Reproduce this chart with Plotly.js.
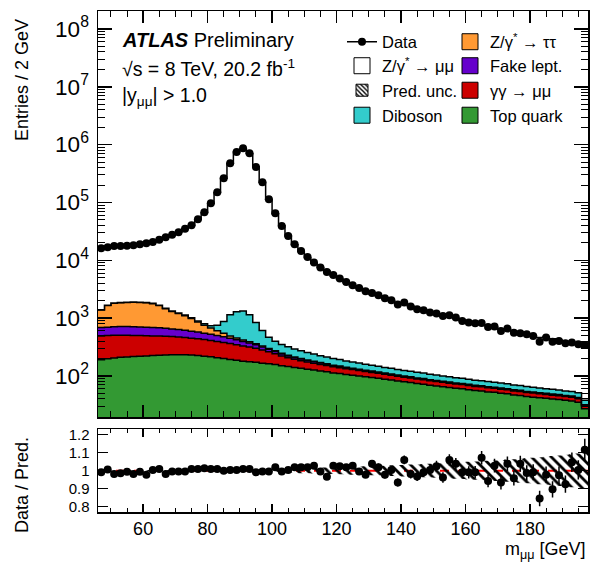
<!DOCTYPE html>
<html><head><meta charset="utf-8">
<script src="https://cdn.plot.ly/plotly-3.0.1.min.js"></script>
<style>html,body{margin:0;padding:0;background:#fff}#chart{width:590px;height:565px}</style>
</head><body><div id="chart"></div>
<script>
// bin centres of the 2 GeV bins [GeV]
const massCentres = [47,49,51,53,55,57,59,61,63,65,67,69,71,73,75,77,79,81,83,85,87,89,91,93,95,97,99,101,103,105,107,109,111,113,115,117,119,121,123,125,127,129,131,133,135,137,139,141,143,145,147,149,151,153,155,157,159,161,163,165,167,169,171,173,175,177,179,181,183,185,187,189,191,193,195,197];
const binHalfWidth = 1;

const dataCounts = [16130,16790,17680,17700,17750,18180,18920,19690,20730,22630,25000,27620,30510,35080,40320,51200,67670,96870,150100,262200,476700,747600,866400,710000,411400,223600,113600,65050,39220,26330,18920,14490,11400,9125,7475,6275,5568,4825,4213,3694,3318,2908,2718,2480,2201,2032,1713,1854,1581,1420,1364,1245,1196,1087,1118,1020,891,836,813,820,702,713,598,658,561,546,524,490,392,460,392,402,366,377,352,342];

const ratioDataPred = [0.991,1.006,0.981,0.985,0.994,0.981,0.994,0.977,1.004,1.009,0.981,0.996,0.996,0.996,1.009,1.009,1.013,1.009,1.009,1.000,1.004,1.004,1.009,1.009,0.991,0.996,0.996,1.019,0.996,1.004,1.019,1.019,1.019,1.028,0.996,0.966,1.028,1.025,1.019,1.028,0.996,0.977,1.038,1.019,0.977,1.004,0.934,1.060,0.981,0.968,0.991,1.004,1.025,0.962,1.060,1.038,0.991,0.991,0.991,1.072,0.943,1.028,0.934,1.038,0.958,1.038,0.987,0.991,0.845,0.977,0.896,0.975,0.925,1.047,1.004,1.117];

const topQuark = [190,198,205,210,213,216,218,222,225,228,230,232,233,232,230,226,220,214,207,200,193,186,180,176,172,166,162,158,150,145,140,136,131,127,122,118,113,110,106,103,100,97,94,91,88,85,82,79,77,74,72,69,67,65,63,61,60,58,56,55,53,52,50,49,47,46,44,43,42,41,40,39,38,37,35,27];
const gammaGamma = [300,300,298,294,290,286,280,275,268,262,255,248,238,228,220,212,205,196,188,180,170,160,150,140,130,115,100,85,72,62,54,48,43,39,36,33,31,29,27,26,24,22,21,20,19,18,17,16,15,14.5,14,13.5,13,12.5,12,11.5,11,10.5,10,10,9.5,9,9,8.5,8,8,7.5,7.5,7,7,6.5,6.5,6,6,5.5,3];
const fakeLept = [200,198,205,210,210,207,205,200,195,190,180,170,165,155,145,135,125,115,105,95,85,75,65,55,45,35,27,21,17,15,13,12,11,10,9,8,7,6.5,6,5.5,5,4.8,4.5,4.3,4,3.8,3.6,3.4,3.2,3,2.9,2.8,2.7,2.6,2.5,2.4,2.3,2.2,2.1,2,2,1.9,1.9,1.8,1.8,1.7,1.7,1.6,1.6,1.5,1.5,1.5,1.4,1.4,1.4,1.3];
const zTauTau = [690,950,1090,1135,1155,1170,1165,1140,1090,970,785,650,565,485,385,285,205,150,105,70,45,30,25,20,15,12,10,9,8,6,5,4.5,4,3.5,3,2.8,2.6,2.4,2.2,2,1.9,1.8,1.7,1.6,1.5,1.4,1.3,1.2,1.2,1.1,1.1,1,1,1,0.9,0.9,0.9,0.9,0.8,0.8,0.8,0.8,0.8,0.7,0.7,0.7,0.7,0.7,0.7,0.6,0.6,0.6,0.6,0.6,0.6,0.6];
const diboson = [20,20,20,20,20,21,21,22,22,23,24,25,27,29,32,36,45,60,150,330,650,840,910,750,480,280,170,125,102,92,80,72,65,59,54,50,47,44,40,38,36,34,32,30,28,27,26,25,24,23,22,21,20,19,18,17.5,17,16,15.5,15,14.5,14,13.5,13,12.5,12,11.5,11,10.5,10,10,9.5,9,9,8.5,6];
// relative prediction uncertainty
const predUnc = [0.004,0.004,0.004,0.004,0.004,0.004,0.004,0.004,0.004,0.004,0.004,0.004,0.004,0.004,0.004,0.004,0.004,0.004,0.004,0.004,0.004,0.004,0.004,0.004,0.004,0.005,0.006,0.008,0.010,0.012,0.013,0.014,0.015,0.016,0.017,0.018,0.019,0.020,0.021,0.022,0.023,0.024,0.026,0.027,0.028,0.030,0.031,0.032,0.034,0.035,0.037,0.038,0.040,0.041,0.043,0.045,0.047,0.049,0.051,0.053,0.055,0.057,0.060,0.062,0.064,0.067,0.070,0.072,0.075,0.078,0.081,0.085,0.088,0.092,0.096,0.100];

const FONT = 'Liberation Sans, Arial, Helvetica, sans-serif';
const colTop = 'rgb(51,153,51)', colGG = 'rgb(204,0,0)', colFake = 'rgb(102,0,204)',
      colTau = 'rgb(255,153,51)', colDib = 'rgb(51,204,204)';

// derived quantities
const n = massCentres.length;
const edges = massCentres.map(c => c - binHalfWidth).concat([massCentres[n-1] + binHalfWidth]);
const stepY = v => v.concat([v[v.length-1]]);
const cum = [];
let run = new Array(n).fill(0);
[topQuark, gammaGamma, fakeLept, zTauTau, diboson].forEach(arr => {
  run = run.map((r, i) => r + arr[i]);
  cum.push(run.slice());
});
const totalPred = dataCounts.map((d, i) => d / ratioDataPred[i]);
const ratioErr = dataCounts.map((d, i) => Math.sqrt(d) / totalPred[i]);
const uncLo = predUnc.map(u => 1 - u), uncHi = predUnc.map(u => 1 + u);

const traces = [];
// baseline for the first filled layer (below visible range on log axis)
traces.push({x: edges, y: edges.map(() => 1), mode: 'lines', line: {width: 0, shape: 'hv'}, showlegend: false, hoverinfo: 'skip'});
const layerCols = [colTop, colGG, colFake, colTau, colDib];
cum.forEach((c, k) => {
  traces.push({x: edges, y: stepY(c), mode: 'lines', fill: 'tonexty', fillcolor: layerCols[k],
    line: {color: 'black', width: 1.5, shape: 'hv'}, showlegend: false, hoverinfo: 'skip'});
});
traces.push({x: edges, y: stepY(totalPred), mode: 'lines', fill: 'tonexty', fillcolor: 'white',
  line: {color: 'black', width: 1.5, shape: 'hv'}, showlegend: false, hoverinfo: 'skip'});
// data
traces.push({x: massCentres, y: dataCounts, mode: 'markers', marker: {color: 'black', size: 8}, showlegend: false});

// ratio panel
traces.push({x: edges, y: stepY(uncLo), xaxis: 'x2', yaxis: 'y2', mode: 'lines', line: {width: 0, shape: 'hv'}, showlegend: false, hoverinfo: 'skip'});
traces.push({x: edges, y: stepY(uncHi), xaxis: 'x2', yaxis: 'y2', mode: 'lines', line: {width: 0, shape: 'hv'},
  fill: 'tonexty', fillcolor: 'rgba(0,0,0,0)',
  fillpattern: {shape: '\\', fgcolor: 'black', bgcolor: 'rgba(0,0,0,0)', size: 7, solidity: 0.4, fillmode: 'replace'},
  showlegend: false, hoverinfo: 'skip'});
traces.push({x: massCentres, y: ratioDataPred, xaxis: 'x2', yaxis: 'y2', mode: 'markers',
  marker: {color: 'black', size: 8},
  error_y: {type: 'data', array: ratioErr, visible: true, color: 'black', thickness: 1.5, width: 0},
  showlegend: false});

// legend entries
const legItems = [
  {name: 'Data', legend: 'legend', kind: 'data'},
  {name: 'Z/γ<sup>*</sup> → μμ', legend: 'legend2', color: 'white'},
  {name: 'Pred. unc.', legend: 'legend3', kind: 'hatch'},
  {name: 'Diboson', legend: 'legend4', color: colDib},
  {name: 'Z/γ<sup>*</sup> → ττ', legend: 'legend5', color: colTau},
  {name: 'Fake lept.', legend: 'legend6', color: colFake},
  {name: 'γγ → μμ', legend: 'legend7', color: colGG},
  {name: 'Top quark', legend: 'legend8', color: colTop}
];
legItems.forEach(it => {
  if (it.kind === 'data') {
    traces.push({x: [null], y: [null], name: it.name, legend: it.legend, mode: 'lines+markers',
      marker: {color: 'black', size: 8}, line: {color: 'black', width: 1.5}});
  } else if (it.kind === 'hatch') {
    traces.push({type: 'bar', x: [null], y: [null], name: it.name, legend: it.legend,
      marker: {color: 'white', line: {color: 'black', width: 1},
        pattern: {shape: '\\', fgcolor: 'black', bgcolor: 'white', size: 4, solidity: 0.45}}});
  } else {
    traces.push({x: [null], y: [null], name: it.name, legend: it.legend, mode: 'markers',
      marker: {symbol: 'square', size: 16, color: it.color, line: {color: 'black', width: 1}}});
  }
});

const px2x = px => (px - 98) / 490;
const py2y = py => (512 - py) / 501;
const legendCfg = (xpx, ypx) => ({x: px2x(xpx), y: py2y(ypx), xanchor: 'left', yanchor: 'middle',
  bgcolor: 'rgba(0,0,0,0)', borderwidth: 0, font: {family: FONT, size: 16.5, color: 'black'}});

const axCommon = {showline: true, linecolor: 'black', linewidth: 1.5, mirror: 'ticks', ticks: 'inside',
  tickcolor: 'black', showgrid: false, zeroline: false};

const layout = {
  width: 590, height: 565,
  margin: {l: 98, r: 2, t: 11, b: 53},
  paper_bgcolor: 'white', plot_bgcolor: 'white',
  font: {family: FONT, size: 18, color: 'black'},
  showlegend: true,
  xaxis: Object.assign({}, axCommon, {domain: [0, 1], anchor: 'y', range: [46, 198], tick0: 0, dtick: 20,
    ticklen: 12, tickwidth: 1.5, showticklabels: false,
    minor: {ticks: 'inside', dtick: 5, ticklen: 6, tickcolor: 'black', tickwidth: 1}}),
  yaxis: Object.assign({}, axCommon, {domain: [0.1896, 1], anchor: 'x', type: 'log', range: [1.29, 8.31],
    dtick: 1, exponentformat: 'power', ticklen: 14, tickwidth: 1.5, ticklabelstandoff: 4,
    tickfont: {size: 18},
    minor: {ticks: 'inside', dtick: 'D1', ticklen: 7, tickcolor: 'black', tickwidth: 1}}),
  xaxis2: Object.assign({}, axCommon, {domain: [0, 1], anchor: 'y2', range: [46, 198], tick0: 0, dtick: 20,
    ticklen: 8, tickwidth: 1.5, tickfont: {size: 18},
    minor: {ticks: 'inside', dtick: 5, ticklen: 4, tickcolor: 'black', tickwidth: 1}}),
  yaxis2: Object.assign({}, axCommon, {domain: [0, 0.165], anchor: 'x2', range: [0.77, 1.23],
    tickvals: [0.8, 0.9, 1, 1.1, 1.2], ticktext: ['0.8', '0.9', '1', '1.1', '1.2'],
    ticklen: 10, tickwidth: 1.5, ticklabelstandoff: 4, tickfont: {size: 15}}),
  shapes: [{type: 'line', xref: 'x2', yref: 'y2', x0: 46, x1: 198, y0: 1, y1: 1,
    line: {color: 'red', width: 2, dash: 'dash'}, layer: 'below'}],
  legend: legendCfg(342, 42),
  legend2: legendCfg(342, 66),
  legend3: legendCfg(342, 90.5),
  legend4: legendCfg(342, 115.5),
  legend5: legendCfg(450, 42),
  legend6: legendCfg(450, 66),
  legend7: legendCfg(450, 90.5),
  legend8: legendCfg(450, 115.5),
  annotations: [
    {text: '<b><i>ATLAS</i></b> Preliminary', xref: 'paper', yref: 'paper', x: px2x(120), y: py2y(40),
      xanchor: 'left', yanchor: 'middle', showarrow: false, font: {size: 20}},
    {text: '√s = 8 TeV, 20.2 fb<sup>-1</sup>', xref: 'paper', yref: 'paper', x: px2x(120), y: py2y(68),
      xanchor: 'left', yanchor: 'middle', showarrow: false, font: {size: 19.5}},
    {text: '|y<sub>μμ</sub>| > 1.0', xref: 'paper', yref: 'paper', x: px2x(120), y: py2y(97),
      xanchor: 'left', yanchor: 'middle', showarrow: false, font: {size: 19.5}},
    {text: 'Entries / 2 GeV', xref: 'paper', yref: 'paper', x: px2x(22), y: py2y(80),
      xanchor: 'center', yanchor: 'middle', textangle: -90, showarrow: false, font: {size: 18}},
    {text: 'Data / Pred.', xref: 'paper', yref: 'paper', x: px2x(22), y: py2y(485),
      xanchor: 'center', yanchor: 'middle', textangle: -90, showarrow: false, font: {size: 18}},
    {text: 'm<sub>μμ</sub> [GeV]', xref: 'paper', yref: 'paper', x: 1, y: py2y(550),
      xanchor: 'right', yanchor: 'middle', showarrow: false, font: {size: 18}}
  ]
};

Plotly.newPlot('chart', traces, layout, {staticPlot: true, displayModeBar: false});
</script></body></html>
